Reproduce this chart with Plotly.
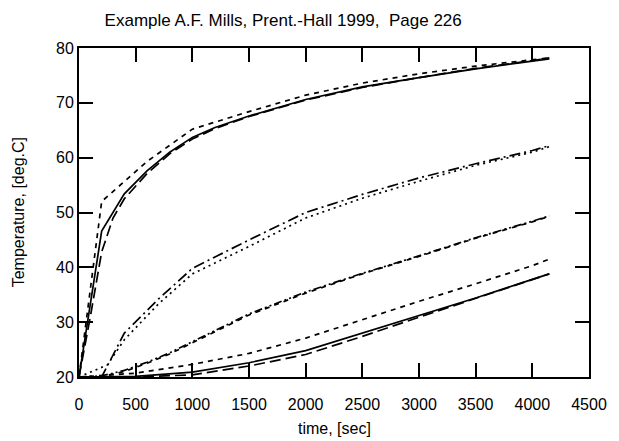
import plotly.graph_objects as go

# ---- data ----
t_a = [0, 200, 400, 600, 800, 1000, 1200, 1500, 2000, 2500, 3000, 3500, 4000, 4150]
T_a = [20, 46.6, 53.4, 57.6, 61.0, 63.7, 65.5, 67.6, 70.6, 72.9, 74.6, 76.2, 77.6, 78.0]

t_b = [0, 100, 200, 300, 400, 600, 800, 1000, 1200, 1500, 2000, 2500, 3000, 3500, 4000, 4150]
T_b = [20, 31.0, 42.8, 49.0, 52.5, 57.1, 60.7, 63.4, 65.3, 67.5, 70.5, 72.8, 74.6, 76.3, 77.7, 78.2]

t_c = [0, 200, 600, 1000, 1500, 2000, 2500, 3000, 3500, 4000, 4150]
T_c = [20, 52.0, 59.3, 65.2, 68.4, 71.4, 73.6, 75.3, 76.7, 77.8, 78.2]

t_d = [0, 200, 400, 700, 1000, 1500, 2000, 2500, 3000, 3500, 4000, 4150]
T_d = [20, 20, 28.0, 34.2, 39.8, 45.0, 50.0, 53.3, 56.3, 58.9, 61.3, 62.2]

t_e = [0, 250, 400, 700, 1000, 1500, 2000, 2500, 3000, 3500, 4000, 4150]
T_e = [20, 22.2, 26.8, 33.3, 38.8, 43.8, 49.0, 52.6, 55.7, 58.6, 61.0, 62.0]

t_f = [0, 200, 400, 600, 800, 1000, 1500, 2000, 2500, 3000, 3500, 4000, 4150]
T_f = [20, 20, 21.0, 22.5, 24.2, 26.2, 31.3, 35.3, 38.8, 42.0, 45.3, 48.3, 49.3]

t_g = [0, 200, 400, 600, 800, 1000, 1500, 2000, 2500, 3000, 3500, 4000, 4150]
T_g = [20, 20.2, 21.2, 22.7, 24.4, 26.4, 31.5, 35.5, 38.9, 42.1, 45.4, 48.4, 49.4]

t_h = [0, 500, 1000, 1500, 2000, 2500, 3000, 3500, 4000, 4150]
T_h = [20, 20.7, 22.3, 24.3, 27.1, 30.5, 33.8, 37.0, 40.3, 41.5]

t_i = [0, 500, 1000, 1500, 2000, 2500, 3000, 3500, 4000, 4150]
T_i = [20, 20.1, 20.9, 22.6, 24.8, 28.0, 31.2, 34.4, 37.8, 38.8]

t_j = [0, 500, 1000, 1500, 2000, 2500, 3000, 3500, 4000, 4150]
T_j = [20, 20.0, 20.4, 22.0, 24.1, 27.4, 30.9, 34.3, 37.8, 38.8]

x_ticks = [0, 500, 1000, 1500, 2000, 2500, 3000, 3500, 4000, 4500]
y_ticks = [20, 30, 40, 50, 60, 70, 80]

title_text = "Example A.F. Mills, Prent.-Hall 1999,\u00a0 Page 226"
x_title = "time, [sec]"
y_title = "Temperature, [deg.C]"

# ---- styles ----
SOLID = "solid"
LONG = "11px,5px"
SHORT = "5px,5px"
DOT = "2px,4px"
DASHDOT = "11px,4px,2px,4px"
DASHDOTDOT = "8px,3px,2px,3px,2px,3px"

series = [
    (t_a, T_a, SOLID),
    (t_b, T_b, LONG),
    (t_c, T_c, SHORT),
    (t_d, T_d, DASHDOT),
    (t_e, T_e, DOT),
    (t_f, T_f, SHORT),
    (t_g, T_g, DASHDOTDOT),
    (t_h, T_h, SHORT),
    (t_i, T_i, SOLID),
    (t_j, T_j, LONG),
]

fig = go.Figure()
for xs, ys, dash in series:
    fig.add_trace(go.Scatter(x=xs, y=ys, mode="lines",
                             line=dict(color="black", width=1.7, dash=dash),
                             showlegend=False, hoverinfo="skip"))

font = dict(family="Liberation Sans, Arial, Helvetica, sans-serif", color="black")

axis_common = dict(
    showgrid=False, zeroline=False, showline=True, linecolor="black", linewidth=2,
    mirror="ticks", ticks="inside", ticklen=14, tickwidth=2, tickcolor="black",
    tickfont=dict(size=16, **font),
)

# the page body has an 8px margin, so the figure is made 8px smaller
W, H = 611, 433
fig.update_layout(
    width=W, height=H,
    margin=dict(l=71, r=23, t=40, b=64),
    paper_bgcolor="white", plot_bgcolor="white",
    xaxis=dict(range=[0, 4500], tickvals=x_ticks, ticklabelstandoff=12, **axis_common),
    yaxis=dict(range=[20, 80], tickvals=y_ticks, **axis_common),
    title=dict(text=title_text, x=(286 - 79) / 517, xref="paper", y=1 - 12 / H, yref="container",
               xanchor="center", yanchor="middle", font=dict(size=17, **font)),
    annotations=[
        dict(text=x_title, xref="paper", yref="paper", x=0.5, y=-(428 - 377) / 329,
             xanchor="center", yanchor="middle", showarrow=False, font=dict(size=16, **font)),
        dict(text=y_title, xref="paper", yref="paper", x=(18 - 79) / 517, y=0.5,
             xanchor="center", yanchor="middle", textangle=-90, showarrow=False,
             font=dict(size=16, **font)),
    ],
)

fig.write_html("out.html")
